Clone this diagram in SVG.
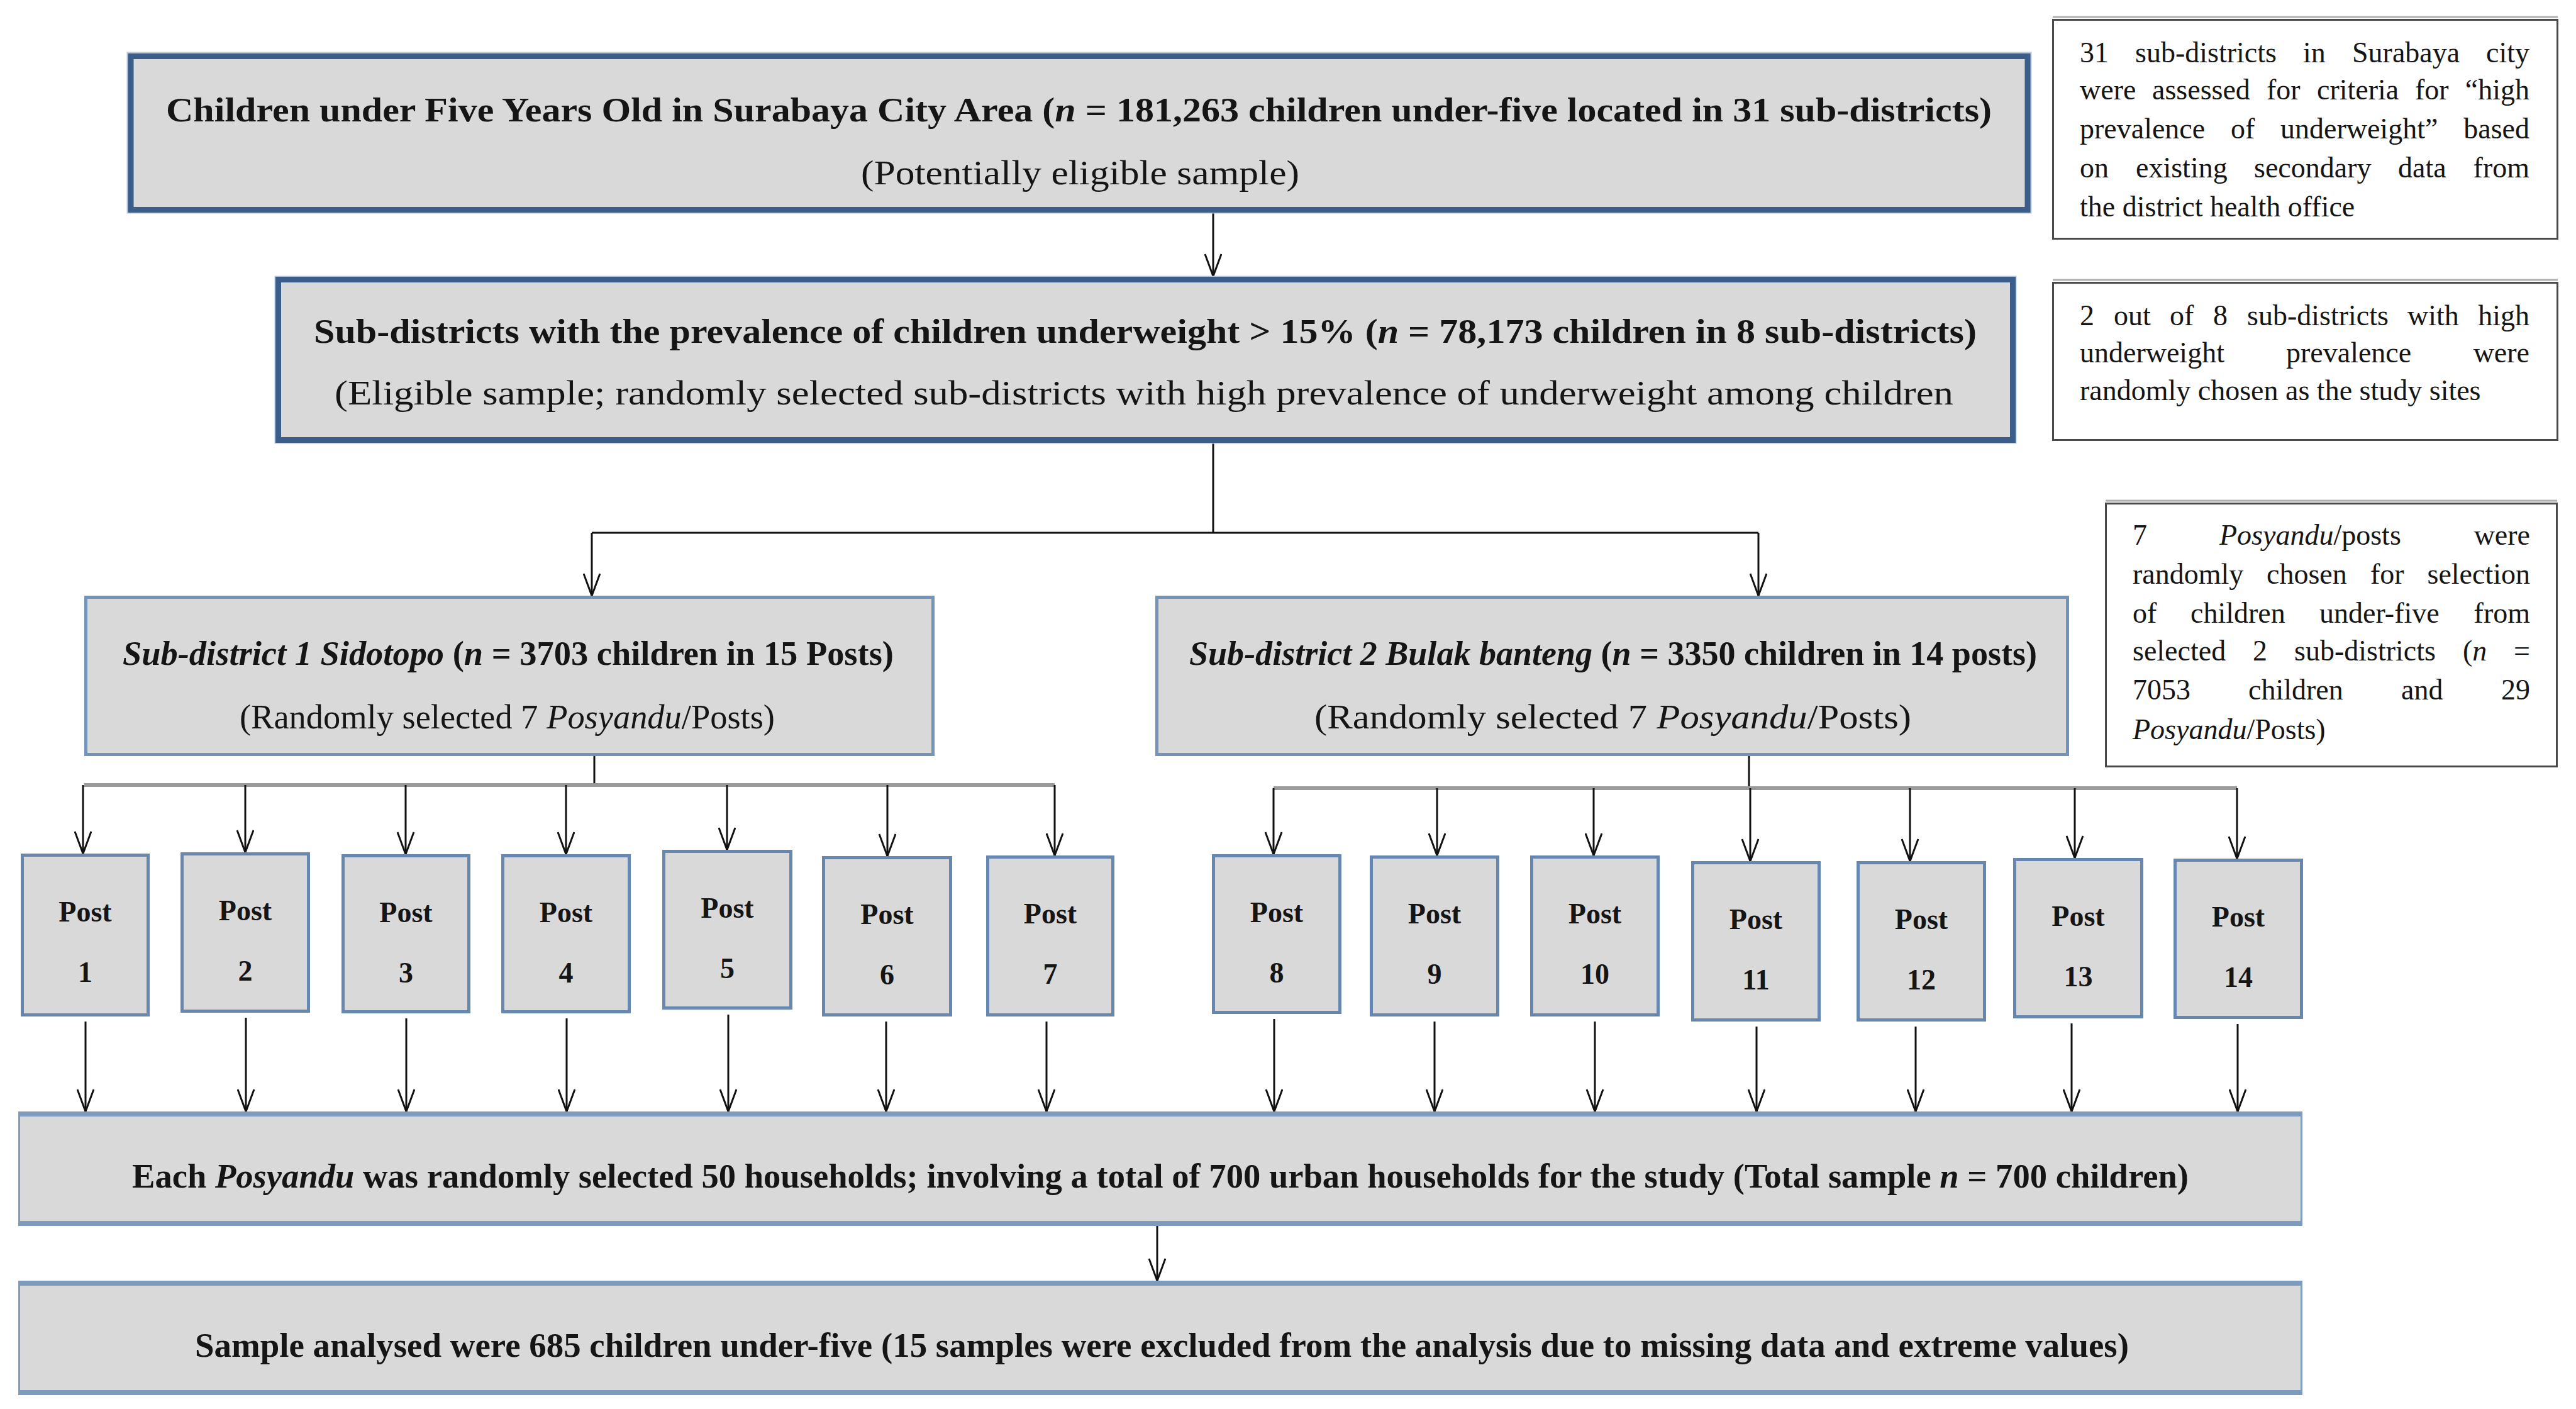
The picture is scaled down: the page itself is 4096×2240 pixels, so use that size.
<svg xmlns="http://www.w3.org/2000/svg" width="4096" height="2240" viewBox="0 0 4096 2240">
<defs>
<style>
.t{font-family:"Liberation Serif","Times New Roman",serif;fill:#151515}
.b{font-weight:bold;font-size:54px}
.r{font-size:54px}
.i{font-style:italic}
.a{font-size:46px}
.p{font-weight:bold;font-size:46px;text-anchor:middle}
.e{text-anchor:end}
.main{fill:#d9d9d9;stroke:#3b5d8a;stroke-width:9}
.mainOut{fill:none;stroke:#b9c9dd;stroke-width:3}
.sub{fill:#d9d9d9;stroke:#7394ba;stroke-width:5}
.post{fill:#d9d9d9;stroke:#6688b0;stroke-width:5}
.note{fill:#ffffff;stroke:#4a4a4a;stroke-width:3}
.noteTop{stroke:#b0b0b0;stroke-width:3}
.bot{fill:#d9d9d9;stroke:#7d9cbd;stroke-width:3}
.band{fill:#7d9cbd}
.c{stroke:#111;stroke-width:3;fill:none}
.ca{stroke:#111;stroke-width:3;fill:none;marker-end:url(#ah)}
.h{stroke:#9a9a9a;stroke-width:6;fill:none}
</style>
<marker id="ah" markerUnits="userSpaceOnUse" viewBox="0 0 40 28" markerWidth="40" markerHeight="28" refX="37" refY="14" orient="auto">
<path d="M2,1 L37,14 L2,27" fill="none" stroke="#111" stroke-width="3"/>
</marker>
</defs>
<rect width="4096" height="2240" fill="#ffffff"/>

<g id="connectors">
<line class="ca" x1="1929" y1="339" x2="1929" y2="439"/>
<line class="c" x1="1929" y1="705" x2="1929" y2="847"/>
<line class="c" x1="941" y1="847" x2="2796" y2="847" stroke="#444" stroke-width="5"/>
<line class="ca" x1="941" y1="847" x2="941" y2="947"/>
<line class="ca" x1="2796" y1="847" x2="2796" y2="947"/>
<line class="c" x1="945" y1="1202" x2="945" y2="1248"/>
<line class="h" x1="134" y1="1248" x2="1677" y2="1248"/>
<line class="ca" x1="132" y1="1248" x2="132" y2="1357"/>
<line class="ca" x1="390" y1="1248" x2="390" y2="1355"/>
<line class="ca" x1="645" y1="1248" x2="645" y2="1358"/>
<line class="ca" x1="900" y1="1248" x2="900" y2="1358"/>
<line class="ca" x1="1156" y1="1248" x2="1156" y2="1351"/>
<line class="ca" x1="1411" y1="1248" x2="1411" y2="1361"/>
<line class="ca" x1="1677" y1="1248" x2="1677" y2="1360"/>
<line class="c" x1="2781" y1="1202" x2="2781" y2="1253"/>
<line class="h" x1="2025" y1="1253" x2="3557" y2="1253"/>
<line class="ca" x1="2025" y1="1253" x2="2025" y2="1358"/>
<line class="ca" x1="2285" y1="1253" x2="2285" y2="1360"/>
<line class="ca" x1="2534" y1="1253" x2="2534" y2="1360"/>
<line class="ca" x1="2783" y1="1253" x2="2783" y2="1369"/>
<line class="ca" x1="3037" y1="1253" x2="3037" y2="1369"/>
<line class="ca" x1="3299" y1="1253" x2="3299" y2="1364"/>
<line class="ca" x1="3557" y1="1253" x2="3557" y2="1365"/>
<line class="ca" x1="136" y1="1624" x2="136" y2="1767"/>
<line class="ca" x1="391" y1="1618" x2="391" y2="1767"/>
<line class="ca" x1="646" y1="1619" x2="646" y2="1767"/>
<line class="ca" x1="901" y1="1619" x2="901" y2="1767"/>
<line class="ca" x1="1158" y1="1613" x2="1158" y2="1767"/>
<line class="ca" x1="1409" y1="1624" x2="1409" y2="1767"/>
<line class="ca" x1="1664" y1="1624" x2="1664" y2="1767"/>
<line class="ca" x1="2026" y1="1620" x2="2026" y2="1767"/>
<line class="ca" x1="2281" y1="1624" x2="2281" y2="1767"/>
<line class="ca" x1="2536" y1="1624" x2="2536" y2="1767"/>
<line class="ca" x1="2793" y1="1632" x2="2793" y2="1767"/>
<line class="ca" x1="3046" y1="1632" x2="3046" y2="1767"/>
<line class="ca" x1="3294" y1="1627" x2="3294" y2="1767"/>
<line class="ca" x1="3558" y1="1628" x2="3558" y2="1767"/>
<line class="ca" x1="1840" y1="1949" x2="1840" y2="2036"/>
</g>

<g id="n-population">
<rect class="mainOut" x="203" y="84" width="3026" height="254"/>
<rect class="main" x="208" y="89.5" width="3016" height="244"/>
<text class="t b" x="264" y="193" textLength="2903" lengthAdjust="spacingAndGlyphs">Children under Five Years Old in Surabaya City Area (<tspan class="i">n</tspan> = 181,263 children under-five located in 31 sub-districts)</text>
<text class="t r" x="1369" y="293" textLength="697" lengthAdjust="spacingAndGlyphs">(Potentially eligible sample)</text>
</g>

<g id="n-eligible">
<rect class="mainOut" x="438" y="440" width="2767" height="264"/>
<rect class="main" x="442.5" y="444.5" width="2758" height="255"/>
<text class="t b" x="499" y="545" textLength="2644" lengthAdjust="spacingAndGlyphs">Sub-districts with the prevalence of children underweight &gt; 15% (<tspan class="i">n</tspan> = 78,173 children in 8 sub-districts)</text>
<text class="t r" x="532" y="643" textLength="2574" lengthAdjust="spacingAndGlyphs">(Eligible sample; randomly selected sub-districts with high prevalence of underweight among children</text>
</g>

<g id="note-1">
<line class="noteTop" x1="3264" y1="27" x2="4067" y2="27"/>
<rect class="note" x="3264.5" y="31.5" width="802" height="348"/>
<text class="t a" y="99"><tspan x="3307">31</tspan><tspan x="3395">sub-districts</tspan><tspan x="3662">in</tspan><tspan x="3740">Surabaya</tspan></text>
<text class="t a e" x="4022" y="99">city</text>
<text class="t a" y="158"><tspan x="3307">were</tspan><tspan x="3422">assessed</tspan><tspan x="3604">for</tspan><tspan x="3684">criteria</tspan><tspan x="3840">for</tspan></text>
<text class="t a e" x="4022" y="158">“high</text>
<text class="t a" y="220"><tspan x="3307">prevalence</tspan><tspan x="3547">of</tspan><tspan x="3626">underweight”</tspan></text>
<text class="t a e" x="4022" y="220">based</text>
<text class="t a" y="282"><tspan x="3307">on</tspan><tspan x="3396">existing</tspan><tspan x="3584">secondary</tspan><tspan x="3813">data</tspan></text>
<text class="t a e" x="4022" y="282">from</text>
<text class="t a" x="3307" y="344">the district health office</text>
</g>

<g id="note-2">
<line class="noteTop" x1="3264" y1="445" x2="4067" y2="445"/>
<rect class="note" x="3264.5" y="449.5" width="802" height="250"/>
<text class="t a" y="517"><tspan x="3307">2</tspan><tspan x="3361">out</tspan><tspan x="3450">of</tspan><tspan x="3519">8</tspan><tspan x="3573">sub-districts</tspan><tspan x="3828">with</tspan></text>
<text class="t a e" x="4022" y="517">high</text>
<text class="t a" y="576"><tspan x="3307">underweight</tspan><tspan x="3635">prevalence</tspan></text>
<text class="t a e" x="4022" y="576">were</text>
<text class="t a" x="3307" y="636">randomly chosen as the study sites</text>
</g>

<g id="note-3">
<line class="noteTop" x1="3348" y1="796" x2="4066" y2="796"/>
<rect class="note" x="3348.5" y="800.5" width="717" height="418"/>
<text class="t a" y="866"><tspan x="3391">7</tspan><tspan x="3529" class="i">Posyandu</tspan>/posts</text>
<text class="t a e" x="4023" y="866">were</text>
<text class="t a" y="928"><tspan x="3391">randomly</tspan><tspan x="3604">chosen</tspan><tspan x="3769">for</tspan></text>
<text class="t a e" x="4023" y="928">selection</text>
<text class="t a" y="990"><tspan x="3391">of</tspan><tspan x="3483">children</tspan><tspan x="3688">under-five</tspan></text>
<text class="t a e" x="4023" y="990">from</text>
<text class="t a" y="1050"><tspan x="3391">selected</tspan><tspan x="3582">2</tspan><tspan x="3648">sub-districts</tspan><tspan x="3916">(</tspan><tspan class="i">n</tspan></text>
<text class="t a e" x="4023" y="1050">=</text>
<text class="t a" y="1112"><tspan x="3391">7053</tspan><tspan x="3575">children</tspan><tspan x="3818">and</tspan></text>
<text class="t a e" x="4023" y="1112">29</text>
<text class="t a" x="3391" y="1175"><tspan class="i">Posyandu</tspan>/Posts)</text>
</g>

<g id="n-sub1">
<rect class="sub" x="136.5" y="949.5" width="1347" height="250"/>
<text class="t b" x="195" y="1057" textLength="1226" lengthAdjust="spacingAndGlyphs"><tspan class="i">Sub-district 1 Sidotopo</tspan> (<tspan class="i">n</tspan> = 3703 children in 15 Posts)</text>
<text class="t r" x="381" y="1158" textLength="851" lengthAdjust="spacingAndGlyphs">(Randomly selected 7 <tspan class="i">Posyandu</tspan>/Posts)</text>
</g>

<g id="n-sub2">
<rect class="sub" x="1839.5" y="949.5" width="1448" height="250"/>
<text class="t b" x="1891" y="1057" textLength="1348" lengthAdjust="spacingAndGlyphs"><tspan class="i">Sub-district 2 Bulak banteng</tspan> (<tspan class="i">n</tspan> = 3350 children in 14 posts)</text>
<text class="t r" x="2090" y="1158" textLength="949" lengthAdjust="spacingAndGlyphs">(Randomly selected 7 <tspan class="i">Posyandu</tspan>/Posts)</text>
</g>

<g id="post-1"><rect class="post" x="35.5" y="1359.5" width="200" height="254"/><text class="t p" x="135.5" y="1465">Post</text><text class="t p" x="135.5" y="1561">1</text></g>
<g id="post-2"><rect class="post" x="289.5" y="1357.5" width="201" height="250"/><text class="t p" x="390" y="1463">Post</text><text class="t p" x="390" y="1559">2</text></g>
<g id="post-3"><rect class="post" x="545.5" y="1360.5" width="200" height="248"/><text class="t p" x="645.5" y="1466">Post</text><text class="t p" x="645.5" y="1562">3</text></g>
<g id="post-4"><rect class="post" x="799.5" y="1360.5" width="201" height="248"/><text class="t p" x="900" y="1466">Post</text><text class="t p" x="900" y="1562">4</text></g>
<g id="post-5"><rect class="post" x="1055.5" y="1353.5" width="202" height="249"/><text class="t p" x="1156.5" y="1459">Post</text><text class="t p" x="1156.5" y="1555">5</text></g>
<g id="post-6"><rect class="post" x="1309.5" y="1363.5" width="202" height="250"/><text class="t p" x="1410.5" y="1469">Post</text><text class="t p" x="1410.5" y="1565">6</text></g>
<g id="post-7"><rect class="post" x="1570.5" y="1362.5" width="199" height="251"/><text class="t p" x="1670" y="1468">Post</text><text class="t p" x="1670" y="1564">7</text></g>
<g id="post-8"><rect class="post" x="1929.5" y="1360.5" width="201" height="249"/><text class="t p" x="2030" y="1466">Post</text><text class="t p" x="2030" y="1562">8</text></g>
<g id="post-9"><rect class="post" x="2180.5" y="1362.5" width="201" height="251"/><text class="t p" x="2281" y="1468">Post</text><text class="t p" x="2281" y="1564">9</text></g>
<g id="post-10"><rect class="post" x="2435.5" y="1362.5" width="201" height="251"/><text class="t p" x="2536" y="1468">Post</text><text class="t p" x="2536" y="1564">10</text></g>
<g id="post-11"><rect class="post" x="2691.5" y="1371.5" width="201" height="250"/><text class="t p" x="2792" y="1477">Post</text><text class="t p" x="2792" y="1573">11</text></g>
<g id="post-12"><rect class="post" x="2954.5" y="1371.5" width="201" height="250"/><text class="t p" x="3055" y="1477">Post</text><text class="t p" x="3055" y="1573">12</text></g>
<g id="post-13"><rect class="post" x="3203.5" y="1366.5" width="202" height="250"/><text class="t p" x="3304.5" y="1472">Post</text><text class="t p" x="3304.5" y="1568">13</text></g>
<g id="post-14"><rect class="post" x="3458.5" y="1367.5" width="201" height="250"/><text class="t p" x="3559" y="1473">Post</text><text class="t p" x="3559" y="1569">14</text></g>

<g id="n-households">
<rect class="bot" x="30.5" y="1768.5" width="3629" height="179"/>
<rect class="band" x="29" y="1767" width="3632" height="8"/>
<rect class="band" x="29" y="1941" width="3632" height="8"/>
<text class="t b" x="210" y="1888" textLength="3270" lengthAdjust="spacingAndGlyphs">Each <tspan class="i">Posyandu</tspan> was randomly selected 50 households; involving a total of 700 urban households for the study (Total sample <tspan class="i">n</tspan> = 700 children)</text>
</g>

<g id="n-analysed">
<rect class="bot" x="30.5" y="2037.5" width="3629" height="179"/>
<rect class="band" x="29" y="2036" width="3632" height="8"/>
<rect class="band" x="29" y="2210" width="3632" height="8"/>
<text class="t b" x="310" y="2157" textLength="3075" lengthAdjust="spacingAndGlyphs">Sample analysed were 685 children under-five (15 samples were excluded from the analysis due to missing data and extreme values)</text>
</g>
</svg>
